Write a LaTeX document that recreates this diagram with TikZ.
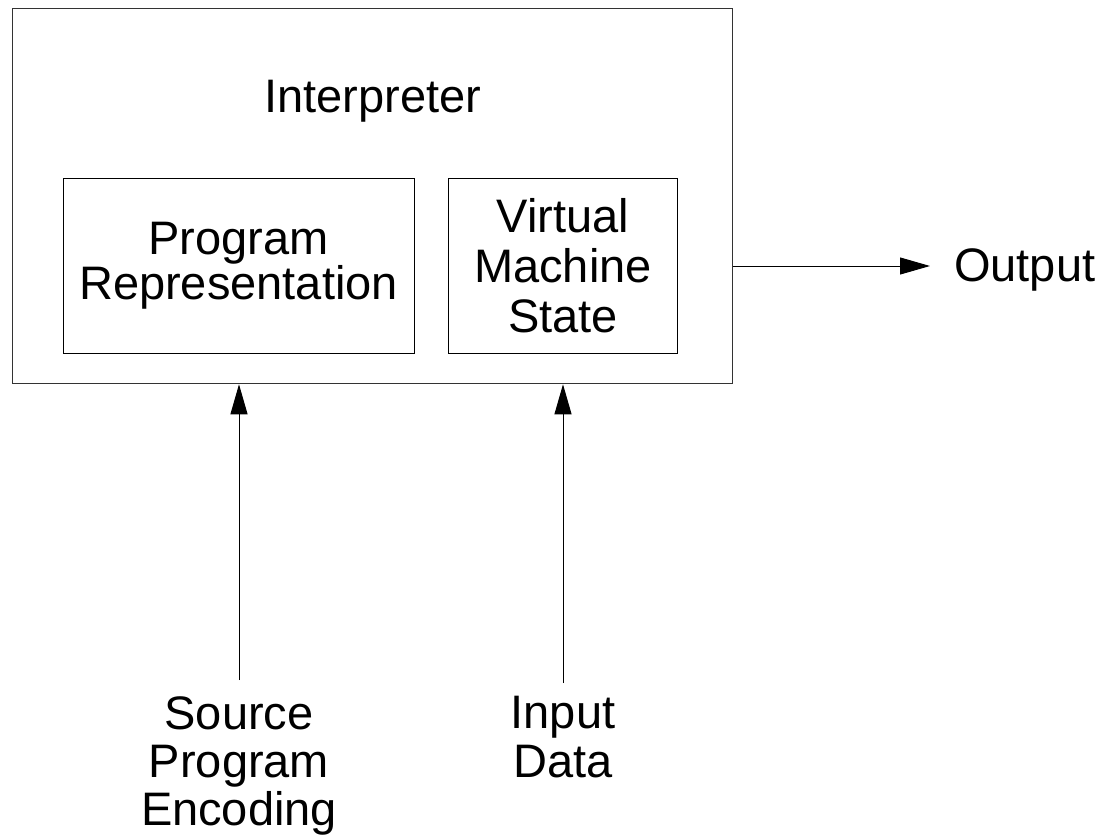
\documentclass[tikz,border=0pt]{standalone}
\usepackage{fontspec}
\setmainfont{Liberation Sans}
\usetikzlibrary{arrows.meta}
\begin{document}
\begin{tikzpicture}[x=1pt,y=-1pt,
  every node/.style={font=\fontsize{47}{50}\selectfont, align=center},
  outerbox/.style={draw=black!80, line width=1.3pt, inner sep=0pt},
  innerbox/.style={draw=black, line width=1pt, inner sep=0pt},
  arr/.style={line width=1pt, -{Triangle[length=30pt,width=17pt]}},
  lbl/.style={inner sep=0pt}]
\useasboundingbox (0,0) rectangle (1103,837);
\node[outerbox, minimum width=720pt, minimum height=375pt, anchor=north west] (interp) at (12,8) {};
\node[lbl, anchor=base] (title) at (373,113) {Interpreter};
\node[innerbox, minimum width=351pt, minimum height=175pt, font=\fontsize{47}{45}\selectfont] (prog) at (238.5,266) {Program\\Representation};
\node[innerbox, minimum width=229pt, minimum height=175pt] (vms) at (563,266) {Virtual\\Machine\\State};
\node[lbl, inner xsep=24pt, anchor=base west] (out) at (930,281) {Output};
\node[lbl, anchor=north, font=\fontsize{47}{48}\selectfont] (src) at (239,696) {Source\\Program\\Encoding};
\node[lbl, anchor=north, font=\fontsize{47}{49}\selectfont] (inp) at (563,696) {Input\\Data};
\draw[arr] (prog.east -| interp.east) -- (out.west |- prog.east);
\draw[arr, shorten <=16pt] (src.north) -- (src.north |- interp.south);
\draw[arr, shorten <=13pt] (inp.north) -- (inp.north |- interp.south);
\end{tikzpicture}
\end{document}
